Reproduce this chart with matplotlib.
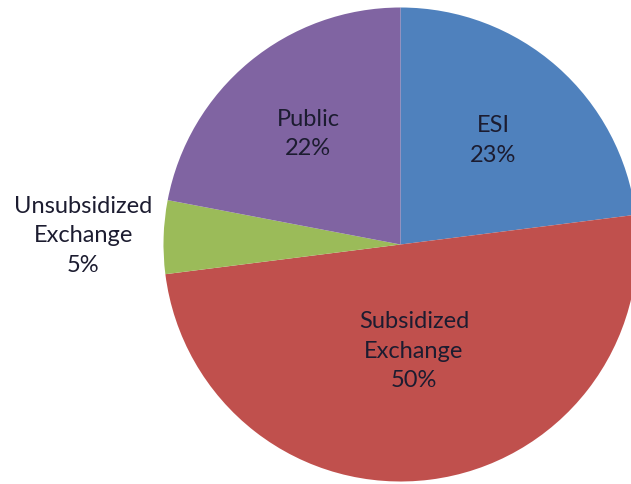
import numpy as np
import matplotlib.pyplot as plt

# Coverage source shares
labels = ['ESI', 'Subsidized\nExchange', 'Unsubsidized\nExchange', 'Public']
shares = [23, 50, 5, 22]
colors = ['#4F81BD', '#C0504D', '#9BBB59', '#8064A2']
# radial position of each label (fraction of the radius)
label_dist = [0.59, 0.45, 1.34, 0.61]

W, H = 631, 485
fig = plt.figure(figsize=(W / 100, H / 100), dpi=100)
ax = fig.add_axes([0, 0, 1, 1])

cx, cy, r = 400.5, H - 245.5, 237

wedges, _ = ax.pie(shares, colors=colors, startangle=90, counterclock=False,
                   center=(cx, cy), radius=r, frame=True,
                   wedgeprops=dict(linewidth=0))
ax.set_xlim(0, W)
ax.set_ylim(0, H)
ax.set_aspect('equal')
ax.axis('off')

for w, lab, val, d in zip(wedges, labels, shares, label_dist):
    ang = np.deg2rad((w.theta1 + w.theta2) / 2)
    x = cx + d * r * np.cos(ang)
    y = cy + d * r * np.sin(ang)
    ax.text(x, y, f'{lab}\n{val}%', ha='center', va='center',
            fontsize=17, family=['Lato', 'DejaVu Sans'], color='#1c1c30',
            linespacing=1.5)

fig.savefig('out.png', dpi=100)
